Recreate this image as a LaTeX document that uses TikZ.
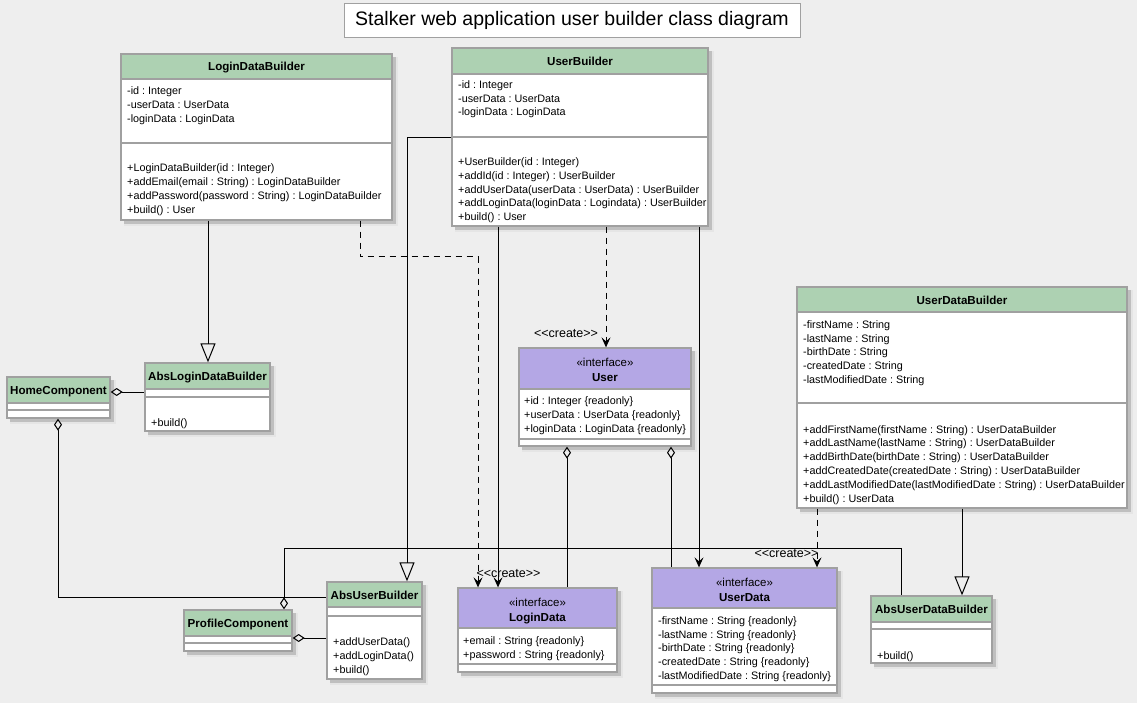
\documentclass[tikz,border=0pt]{standalone}
\usepackage{fontspec}
\setmainfont{Liberation Sans}
\usetikzlibrary{arrows.meta,fit,calc}
\definecolor{bgc}{HTML}{EEEEEE}
\definecolor{hdrg}{HTML}{ADD1B2}
\definecolor{hdrp}{HTML}{B4A7E5}
\definecolor{bord}{HTML}{A0A0A0}
% #1 name, #2 x1, #3 y1, #4 x2, #5 y2, #6 header bottom, #7 header colour, #8 separator y
\newcommand{\umlcls}[8]{%
  \fill[black!10] (#2+3,#3+3) rectangle (#4+6,#5+6);
  \fill[black!25] (#2+3,#3+3) rectangle (#4+4,#5+4);
  \fill[white] (#2,#3) rectangle (#4,#5);
  \fill[#7] (#2,#3) rectangle (#4,#6);
  \draw[bord, line width=1.3pt] (#2,#6) -- (#4,#6);
  \draw[bord, line width=1.3pt] (#2,#8) -- (#4,#8);
  \node[draw=bord, line width=1.3pt, inner sep=0pt, fit={(#2,#3)(#4,#5)}] (#1) {};
}
\tikzset{
  mem/.style={font=\frenchspacing\fontsize{10.8}{13}\selectfont, inner sep=0pt, anchor=base west},
  cname/.style={font=\bfseries\fontsize{11.6}{13}\selectfont, inner sep=0pt, anchor=base},
  stereo/.style={font=\fontsize{11.5}{13}\selectfont, inner sep=0pt, anchor=base},
  lbl/.style={font=\fontsize{12.5}{14}\selectfont, inner sep=0pt, anchor=base},
  conn/.style={draw=black, line width=1pt},
  dsh/.style={conn, dash pattern=on 6pt off 5pt},
  arr/.style={-{Stealth[length=10pt,width=9pt,inset=4pt]}},
  gen/.style={-{Triangle[open,length=19pt,width=15pt]}},
  agg/.style={{Diamond[open,length=12pt,width=8pt]}-},
}
\begin{document}
\begin{tikzpicture}[x=1pt,y=-1pt]
\fill[bgc] (0,0) rectangle (1137,703);
\useasboundingbox (0,0) rectangle (1137,703);

% title
\node[draw=bord, line width=0.8pt, fill=white, minimum width=456pt, minimum height=34pt, inner sep=0pt,
      font=\fontsize{19.5}{22}\selectfont] (title) at (572,20) {Stalker web application user builder class diagram};

% ---------------- classes ----------------
\umlcls{LDB}{121}{54}{392}{220}{79}{hdrg}{143}
\node[cname] (LDBn) at (256.5,71) {LoginDataBuilder};
\node[mem] (LDBa1) at (127,95) {-id : Integer};
\node[mem] (LDBa2) at (127,109) {-userData : UserData};
\node[mem] (LDBa3) at (127,123) {-loginData : LoginData};
\node[mem] (LDBm1) at (127,172) {+LoginDataBuilder(id : Integer)};
\node[mem] (LDBm2) at (127,186) {+addEmail(email : String) : LoginDataBuilder};
\node[mem] (LDBm3) at (127,200) {+addPassword(password : String) : LoginDataBuilder};
\node[mem] (LDBm4) at (127,214) {+build() : User};

\umlcls{UB}{452}{48}{708}{226}{74}{hdrg}{137}
\node[cname] (UBn) at (580,65.5) {UserBuilder};
\node[mem] (UBa1) at (458,89) {-id : Integer};
\node[mem] (UBa2) at (458,102.5) {-userData : UserData};
\node[mem] (UBa3) at (458,116) {-loginData : LoginData};
\node[mem] (UBm1) at (458,166) {+UserBuilder(id : Integer)};
\node[mem] (UBm2) at (458,180) {+addId(id : Integer) : UserBuilder};
\node[mem] (UBm3) at (458,193.5) {+addUserData(userData : UserData) : UserBuilder};
\node[mem] (UBm4) at (458,207) {+addLoginData(loginData : Logindata) : UserBuilder};
\node[mem] (UBm5) at (458,221) {+build() : User};

\umlcls{User}{519}{348}{691}{446}{389}{hdrp}{439}
\node[stereo] (Users) at (605,366) {«interface»};
\node[cname] (Usern) at (605,381) {User};
\node[mem] (Usera1) at (524,404) {+id : Integer \{readonly\}};
\node[mem] (Usera2) at (524,418) {+userData : UserData \{readonly\}};
\node[mem] (Usera3) at (524,432) {+loginData : LoginData \{readonly\}};

\umlcls{UDB}{797}{287}{1127}{508}{312}{hdrg}{403}
\node[cname] (UDBn) at (962,304) {UserDataBuilder};
\node[mem] (UDBa1) at (803,328) {-firstName : String};
\node[mem] (UDBa2) at (803,342) {-lastName : String};
\node[mem] (UDBa3) at (803,355) {-birthDate : String};
\node[mem] (UDBa4) at (803,369) {-createdDate : String};
\node[mem] (UDBa5) at (803,383) {-lastModifiedDate : String};
\node[mem] (UDBm1) at (803,433) {+addFirstName(firstName : String) : UserDataBuilder};
\node[mem] (UDBm2) at (803,446) {+addLastName(lastName : String) : UserDataBuilder};
\node[mem] (UDBm3) at (803,460) {+addBirthDate(birthDate : String) : UserDataBuilder};
\node[mem] (UDBm4) at (803,474) {+addCreatedDate(createdDate : String) : UserDataBuilder};
\node[mem] (UDBm5) at (803,488) {+addLastModifiedDate(lastModifiedDate : String) : UserDataBuilder};
\node[mem] (UDBm6) at (803,502) {+build() : UserData};

\umlcls{HC}{7}{377}{110}{418}{403}{hdrg}{410}
\node[cname] (HCn) at (58.5,394.5) {HomeComponent};

\umlcls{ALDB}{145}{363}{270}{431}{389}{hdrg}{397}
\node[cname] (ALDBn) at (207.5,380.5) {AbsLoginDataBuilder};
\node[mem] (ALDBm1) at (151,426) {+build()};

\umlcls{AUB}{327}{582}{422}{679}{607}{hdrg}{616}
\node[cname] (AUBn) at (374.5,599) {AbsUserBuilder};
\node[mem] (AUBm1) at (333,645) {+addUserData()};
\node[mem] (AUBm2) at (333,659) {+addLoginData()};
\node[mem] (AUBm3) at (333,673) {+build()};

\umlcls{PC}{184}{610}{292}{651}{636}{hdrg}{643}
\node[cname] (PCn) at (238,627.5) {ProfileComponent};

\umlcls{LD}{458}{588}{617}{672}{628}{hdrp}{664}
\node[stereo] (LDs) at (537.5,606) {«interface»};
\node[cname] (LDn) at (537.5,621) {LoginData};
\node[mem] (LDa1) at (463,644) {+email : String \{readonly\}};
\node[mem] (LDa2) at (463,658) {+password : String \{readonly\}};

\umlcls{UD}{652}{568}{837}{693}{608}{hdrp}{685}
\node[stereo] (UDs) at (744.5,586) {«interface»};
\node[cname] (UDn) at (744.5,601) {UserData};
\node[mem] (UDa1) at (658,624) {-firstName : String \{readonly\}};
\node[mem] (UDa2) at (658,638) {-lastName : String \{readonly\}};
\node[mem] (UDa3) at (658,651.5) {-birthDate : String \{readonly\}};
\node[mem] (UDa4) at (658,665) {-createdDate : String \{readonly\}};
\node[mem] (UDa5) at (658,679) {-lastModifiedDate : String \{readonly\}};

\umlcls{AUDB}{871}{596}{992}{663}{622}{hdrg}{629}
\node[cname] (AUDBn) at (931.5,613.5) {AbsUserDataBuilder};
\node[mem] (AUDBm1) at (877,659) {+build()};

% ---------------- connectors ----------------
% generalizations
\draw[conn,gen] (208,0 |- LDB.south) -- (208,0 |- ALDB.north);
\draw[conn,gen] (UB.west |- 0,138) -| (407,0 |- AUB.north);
\draw[conn,gen] (962,0 |- UDB.south) -- (962,0 |- AUDB.north);

% associations from UserBuilder
\draw[conn,arr] (498,0 |- UB.south) -- (498,0 |- LD.north);
\draw[conn,arr] (699,0 |- UB.south) -- (699,0 |- UD.north);

% create dependencies
\draw[dsh,arr] (360,0 |- LDB.south) -- (360,257) -| (478,0 |- LD.north);
\draw[dsh,arr] (606,0 |- UB.south) -- (606,0 |- User.north);
\draw[dsh,arr] (817,0 |- UDB.south) -- (817,0 |- UD.north);
\node[lbl] (c1) at (508.5,577) {<\kern0pt<create>\kern0pt>};
\node[lbl] (c2) at (566,337) {<\kern0pt<create>\kern0pt>};
\node[lbl] (c3) at (786.5,557) {<\kern0pt<create>\kern0pt>};

% aggregations
\draw[conn,agg] (567,0 |- User.south) -- (567,0 |- LD.north);
\draw[conn,agg] (671,0 |- User.south) -- (671,0 |- UD.north);
\draw[conn,agg] (HC.east |- 0,392) -- (ALDB.west |- 0,392);
\draw[conn,agg] (58,0 |- HC.south) |- (AUB.west |- 0,597);
\draw[conn,agg] (284,0 |- PC.north) -- (284,548) -| (901,0 |- AUDB.north);
\draw[conn,agg] (PC.east |- 0,638) -- (AUB.west |- 0,638);
\end{tikzpicture}
\end{document}
